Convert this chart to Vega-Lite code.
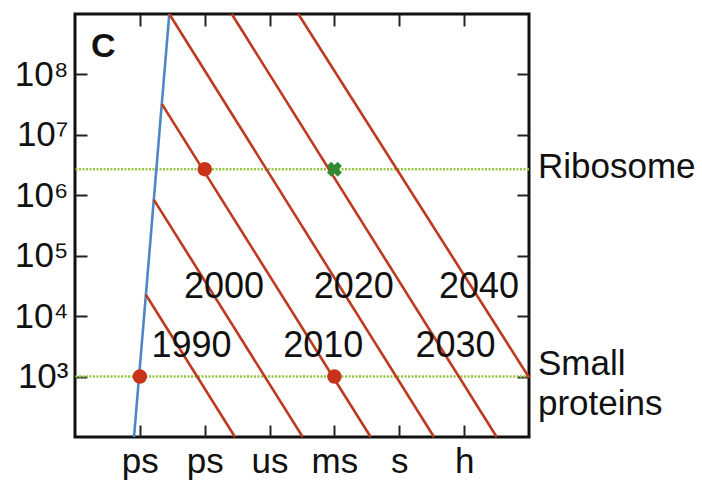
{
  "$schema": "https://vega.github.io/schema/vega-lite/v6.json",
  "width": 454,
  "height": 423,
  "autosize": {"type": "none"},
  "padding": {"left": 75, "top": 14, "right": 173, "bottom": 44},
  "config": {
    "view": {"stroke": "#111111", "strokeWidth": 3},
    "axis": {"grid": false, "domain": false, "tickSize": -12, "tickColor": "#222222", "tickWidth": 2, "labelFont": "Liberation Sans", "labelFontSize": 35, "labelColor": "#111111", "labelPadding": 19},
    "text": {"font": "Liberation Sans", "fontSize": 35, "color": "#111111"}
  },
  "datasets": {
    "lines": [
      {"s": "blue", "kind": "blue", "v": -0.09, "n": 100},
      {"s": "blue", "kind": "blue", "v": 0.454, "n": 1000000000},
      {"s": "1990", "kind": "red", "v": 0.093, "n": 22540},
      {"s": "1990", "kind": "red", "v": 1.467, "n": 100},
      {"s": "2000", "kind": "red", "v": 0.215, "n": 849000},
      {"s": "2000", "kind": "red", "v": 2.511, "n": 100},
      {"s": "2010", "kind": "red", "v": 0.338, "n": 32500000},
      {"s": "2010", "kind": "red", "v": 3.559, "n": 100},
      {"s": "2020", "kind": "red", "v": 0.454, "n": 1000000000},
      {"s": "2020", "kind": "red", "v": 4.535, "n": 100},
      {"s": "2030", "kind": "red", "v": 1.416, "n": 1000000000},
      {"s": "2030", "kind": "red", "v": 5.502, "n": 100},
      {"s": "2040", "kind": "red", "v": 2.443, "n": 1000000000},
      {"s": "2040", "kind": "red", "v": 6.0, "n": 966}
    ],
    "sizes": [
      {"name": "Ribosome", "n": 2700000},
      {"name": "Small\nproteins", "n": 1000}
    ],
    "dots": [
      {"v": 0, "n": 1000},
      {"v": 1, "n": 2700000},
      {"v": 3, "n": 1000}
    ],
    "cross": [
      {"v": 3, "n": 2700000}
    ],
    "years": [
      {"t": "1990", "v": 0.796, "n": 2110},
      {"t": "2000", "v": 1.297, "n": 19700},
      {"t": "2010", "v": 2.828, "n": 2110},
      {"t": "2020", "v": 3.297, "n": 19700},
      {"t": "2030", "v": 4.867, "n": 2110},
      {"t": "2040", "v": 5.229, "n": 19700}
    ],
    "panel": [
      {"t": "C", "v": -1, "n": 1000000000}
    ]
  },
  "layer": [
    {
      "data": {"name": "sizes"},
      "mark": {"type": "rule", "color": "#93C83E", "strokeWidth": 2.5, "strokeDash": [2, 1.5]},
      "encoding": {
        "y": {"field": "n", "type": "quantitative", "scale": {"type": "log", "domain": [100, 1000000000], "nice": false},
              "axis": {"orient": "right", "values": [1000, 10000, 100000, 1000000, 10000000, 100000000], "labels": false, "title": null}}
      }
    },
    {
      "data": {"name": "lines"},
      "mark": {"type": "line", "strokeWidth": 2.6},
      "encoding": {
        "x": {"field": "v", "type": "quantitative", "scale": {"domain": [-1, 6], "nice": false, "zero": false},
              "axis": {"orient": "bottom", "values": [0, 1, 2, 3, 4, 5], "labelExpr": "['ps','ps','us','ms','s','h'][datum.value]", "title": null}},
        "y": {"field": "n", "type": "quantitative", "scale": {"type": "log", "domain": [100, 1000000000], "nice": false},
              "axis": {"orient": "left", "values": [1000, 10000, 100000, 1000000, 10000000, 100000000], "labelExpr": "'10' + ['⁰','¹','²','³','⁴','⁵','⁶','⁷','⁸','⁹'][round(log(datum.value)/LN10)]", "title": null}},
        "detail": {"field": "s", "type": "nominal"},
        "color": {"field": "kind", "type": "nominal", "scale": {"domain": ["blue", "red"], "range": ["#4F86C6", "#BE3A1E"]}, "legend": null}
      }
    },
    {
      "data": {"name": "dots"},
      "mark": {"type": "point", "shape": "circle", "filled": true, "opacity": 1, "size": 210, "color": "#C8321A"},
      "encoding": {
        "x": {"field": "v", "type": "quantitative", "axis": {"orient": "top", "values": [0, 1, 2, 3, 4, 5], "labels": false, "title": null}},
        "y": {"field": "n", "type": "quantitative", "axis": null}
      }
    },
    {
      "data": {"name": "cross"},
      "mark": {"type": "point", "shape": "cross", "angle": 45, "filled": true, "opacity": 1, "size": 230, "color": "#2E8B34"},
      "encoding": {
        "x": {"field": "v", "type": "quantitative", "axis": null},
        "y": {"field": "n", "type": "quantitative", "axis": null}
      }
    },
    {
      "data": {"name": "years"},
      "mark": {"type": "text", "align": "center", "baseline": "alphabetic", "fontSize": 36},
      "encoding": {
        "x": {"field": "v", "type": "quantitative", "axis": null},
        "y": {"field": "n", "type": "quantitative", "axis": null},
        "text": {"field": "t", "type": "nominal"}
      }
    },
    {
      "data": {"name": "sizes"},
      "transform": [{"filter": "datum.n > 100000"}],
      "mark": {"type": "text", "align": "left", "baseline": "alphabetic", "dx": 9, "dy": 9, "x": 454},
      "encoding": {
        "y": {"field": "n", "type": "quantitative", "axis": null},
        "text": {"field": "name", "type": "nominal"}
      }
    },
    {
      "data": {"name": "sizes"},
      "transform": [{"filter": "datum.n < 100000"}],
      "mark": {"type": "text", "align": "left", "baseline": "alphabetic", "dx": 9, "dy": -2, "lineBreak": "\n", "lineHeight": 40, "x": 454},
      "encoding": {
        "y": {"field": "n", "type": "quantitative", "axis": null},
        "text": {"field": "name", "type": "nominal"}
      }
    },
    {
      "data": {"name": "panel"},
      "mark": {"type": "text", "align": "left", "baseline": "alphabetic", "dx": 16, "dy": 43, "fontWeight": "bold", "fontSize": 34},
      "encoding": {
        "x": {"field": "v", "type": "quantitative", "axis": null},
        "y": {"field": "n", "type": "quantitative", "axis": null},
        "text": {"field": "t", "type": "nominal"}
      }
    }
  ],
  "resolve": {"axis": {"x": "independent", "y": "independent"}}
}
